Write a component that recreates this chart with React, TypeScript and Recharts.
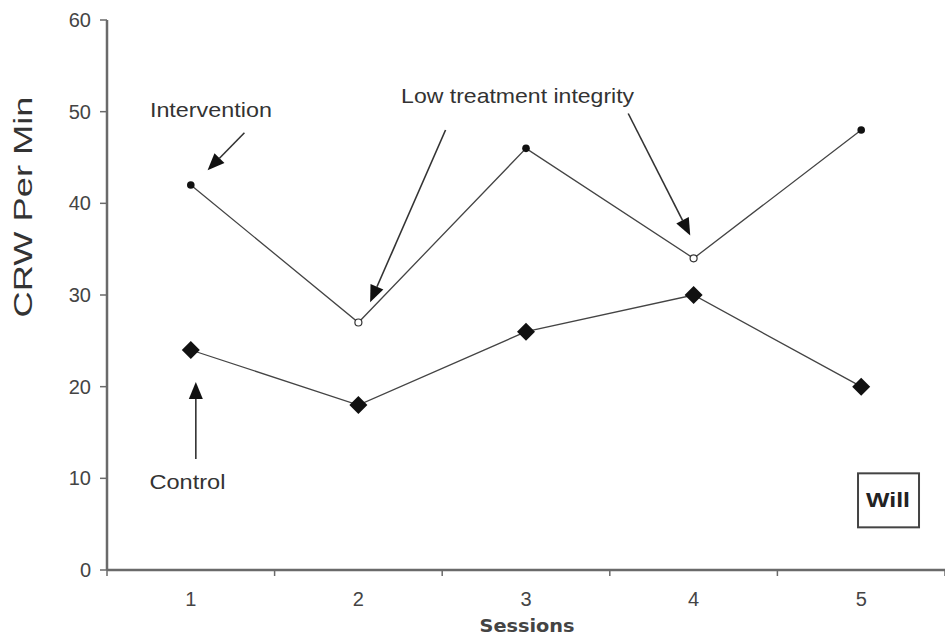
import { LineChart, Line, XAxis, YAxis, ReferenceLine, ReferenceDot } from "recharts";

const sessions = [1, 2, 3, 4, 5];
const intervention = [42, 27, 46, 34, 48];
const lowIntegrity = [false, true, false, true, false];
const control = [24, 18, 26, 30, 20];
const yTicks = [0, 10, 20, 30, 40, 50, 60];
const bandEdges = [0.5, 1.5, 2.5, 3.5, 4.5, 5.5];

const data = sessions.map((s, i) => ({
  session: s,
  intervention: intervention[i],
  low: lowIntegrity[i],
  control: control[i],
}));

const INK = "#333";
const AXIS = "#6a6a6a";
const FONT = "'Liberation Sans', Arial, sans-serif";

// annotation arrows, in data coordinates
const arrows = [
  { x1: 1.32, y1: 47.7, x2: 1.1, y2: 43.6 },
  { x1: 2.52, y1: 48.0, x2: 2.07, y2: 29.2 },
  { x1: 3.61, y1: 49.8, x2: 3.98, y2: 36.5 },
  { x1: 1.03, y1: 12.1, x2: 1.03, y2: 20.5 },
];

const notes = [
  { x: 1.12, y: 50.2, text: "Intervention", len: 122 },
  { x: 2.95, y: 51.8, text: "Low treatment integrity", len: 233 },
  { x: 0.98, y: 9.7, text: "Control", len: 76 },
];

function Arrow(props: any) {
  const { x1, y1, x2, y2 } = props;
  if ([x1, y1, x2, y2].some((v) => v == null || isNaN(v))) return null;
  const dx = x2 - x1;
  const dy = y2 - y1;
  const len = Math.hypot(dx, dy);
  const ux = dx / len;
  const uy = dy / len;
  const head = 17;
  const half = 7;
  const bx = x2 - ux * head;
  const by = y2 - uy * head;
  const pts = `${x2},${y2} ${bx - uy * half},${by + ux * half} ${bx + uy * half},${by - ux * half}`;
  return (
    <g>
      <line x1={x1} y1={y1} x2={bx} y2={by} stroke={INK} strokeWidth={1.6} />
      <polygon points={pts} fill="#111" />
    </g>
  );
}

function InterventionDot(props: any) {
  const { cx, cy, payload } = props;
  if (cx == null || cy == null) return null;
  return payload.low ? (
    <circle cx={cx} cy={cy} r={3.5} fill="#fff" stroke={INK} strokeWidth={1.2} />
  ) : (
    <circle cx={cx} cy={cy} r={3.8} fill="#111" />
  );
}

function Diamond(props: any) {
  const { cx, cy } = props;
  if (cx == null || cy == null) return null;
  const s = 9;
  return <polygon points={`${cx},${cy - s} ${cx + s},${cy} ${cx},${cy + s} ${cx - s},${cy}`} fill="#111" />;
}

// session labels at band centres, tick marks at band edges
function SessionTick(props: any) {
  const { x, y, payload } = props;
  const v = payload.value;
  if (bandEdges.includes(v)) {
    return <line x1={x} y1={y} x2={x} y2={y + 6} stroke={AXIS} strokeWidth={1.5} />;
  }
  return (
    <text x={x} y={y + 36} textAnchor="middle" fill="#444" fontSize={20} fontFamily={FONT}>
      {v}
    </text>
  );
}

export default function App() {
  return (
    <div style={{ position: "absolute", left: 0, top: 0, background: "#fff" }}>
      <LineChart width={945} height={638} data={data} margin={{ top: 20, right: 0, bottom: 8, left: 0 }}>
        <XAxis
          dataKey="session"
          type="number"
          domain={[0.5, 5.5]}
          ticks={[...bandEdges, ...sessions].sort((a, b) => a - b)}
          allowDataOverflow
          interval={0}
          axisLine={{ stroke: AXIS, strokeWidth: 2.5 }}
          tickLine={false}
          tickSize={0}
          tickMargin={0}
          tick={<SessionTick />}
          height={60}
          label={(p: any) => {
            const vb = p.viewBox || {};
            return (
              <text
                x={527}
                y={(vb.y ?? 570) + 62}
                textAnchor="middle"
                fill="#444"
                fontSize={18}
                fontWeight="bold"
                fontFamily="'DejaVu Sans Condensed', 'Liberation Sans Narrow', sans-serif"
                textLength={95}
                lengthAdjust="spacingAndGlyphs"
              >
                Sessions
              </text>
            );
          }}
        />
        <YAxis
          domain={[0, 60]}
          ticks={yTicks}
          width={107}
          axisLine={{ stroke: AXIS, strokeWidth: 2.5 }}
          tickLine={{ stroke: AXIS, strokeWidth: 1.5 }}
          tickSize={7}
          tickMargin={9}
          tick={{ fill: "#444", fontSize: 20, fontFamily: FONT }}
          label={(p: any) => {
            const vb = p.viewBox || {};
            const x = (vb.x ?? 0) + 23;
            const y = 207;
            return (
              <text
                x={x}
                y={y}
                transform={`rotate(-90, ${x}, ${y})`}
                textAnchor="middle"
                dominantBaseline="central"
                fill="#333"
                fontSize={25}
                fontFamily={FONT}
                textLength={221}
                lengthAdjust="spacingAndGlyphs"
              >
                CRW Per Min
              </text>
            );
          }}
        />
        <Line
          dataKey="intervention"
          stroke="#444"
          strokeWidth={1.3}
          dot={<InterventionDot />}
          activeDot={false}
          isAnimationActive={false}
        />
        <Line
          dataKey="control"
          stroke="#444"
          strokeWidth={1.3}
          dot={<Diamond />}
          activeDot={false}
          isAnimationActive={false}
        />
        {arrows.map((a, i) => (
          <ReferenceLine
            key={`a${i}`}
            segment={[
              { x: a.x1, y: a.y1 },
              { x: a.x2, y: a.y2 },
            ]}
            ifOverflow="visible"
            shape={<Arrow />}
          />
        ))}
        {notes.map((n, i) => (
          <ReferenceDot
            key={`n${i}`}
            x={n.x}
            y={n.y}
            r={0}
            fill="none"
            stroke="none"
            ifOverflow="visible"
            label={(p: any) => {
              const vb = p.viewBox || {};
              return (
                <text
                  x={vb.x + (vb.width || 0) / 2}
                  y={vb.y + (vb.height || 0) / 2}
                  textAnchor="middle"
                  dominantBaseline="central"
                  fill="#333"
                  fontSize={21}
                  fontFamily={FONT}
                  textLength={n.len}
                  lengthAdjust="spacingAndGlyphs"
                >
                  {n.text}
                </text>
              );
            }}
          />
        ))}
        <ReferenceDot
          x={5.16}
          y={7.6}
          r={0}
          fill="none"
          stroke="none"
          label={(p: any) => {
            const vb = p.viewBox || {};
            const cx = vb.x + (vb.width || 0) / 2;
            const cy = vb.y + (vb.height || 0) / 2;
            return (
              <g>
                <rect x={cx - 30} y={cy - 27} width={61} height={54} fill="#fff" stroke="#444" strokeWidth={2} />
                <text
                  x={cx}
                  y={cy}
                  textAnchor="middle"
                  dominantBaseline="central"
                  fill="#222"
                  fontSize={20}
                  fontWeight="bold"
                  fontFamily={FONT}
                  textLength={44}
                  lengthAdjust="spacingAndGlyphs"
                >
                  Will
                </text>
              </g>
            );
          }}
        />
      </LineChart>
    </div>
  );
}
